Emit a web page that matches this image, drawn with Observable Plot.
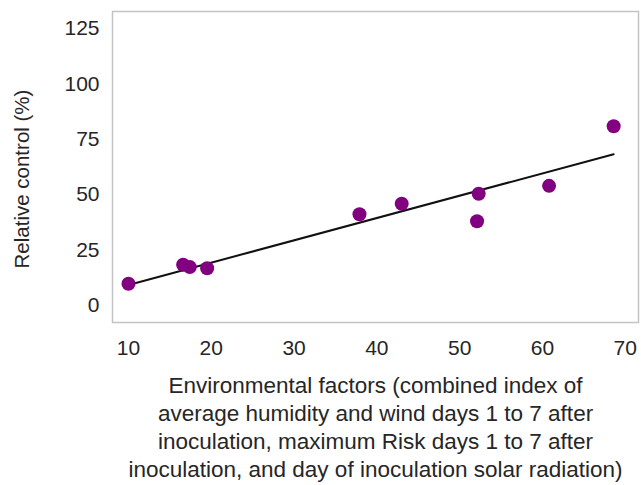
<!DOCTYPE html>
<html>
<head>
<meta charset="utf-8">
<script src="https://cdn.jsdelivr.net/npm/d3@7"></script>
<script src="https://cdn.jsdelivr.net/npm/@observablehq/plot@0.6"></script>
<style>
  html, body { margin: 0; padding: 0; background: #fff; }
  #chart { width: 641px; height: 485px; }
</style>
</head>
<body>
<div id="chart"></div>
<script>
const envIndex = [10.0, 16.6, 17.4, 19.5, 37.9, 43.0, 52.3, 52.1, 60.8, 68.6];
const relControl = [9.8, 18.4, 17.3, 16.8, 41.2, 45.9, 50.4, 38.0, 54.0, 80.9];
const xTicks = [10, 20, 30, 40, 50, 60, 70];
const yTicks = [0, 25, 50, 75, 100, 125];
const yLabel = "Relative control (%)";
const xTitle = "Environmental factors (combined index of\naverage humidity and wind days 1 to 7 after\ninoculation, maximum Risk days 1 to 7 after\ninoculation, and day of inoculation solar radiation)";

const data = envIndex.map((x, i) => ({x, y: relControl[i]}));

const chart = Plot.plot({
  width: 641,
  height: 485,
  marginTop: 11,
  marginLeft: 112,
  marginRight: 3,
  marginBottom: 163,
  style: {fontFamily: "'Liberation Sans', Arial, sans-serif", color: "#262626", background: "#fff"},
  x: {domain: [8.07, 71.6]},
  y: {domain: [-7.7, 132.7]},
  marks: [
    Plot.frame({stroke: "#c4c4c4", strokeWidth: 1.5}),
    Plot.axisX({ticks: xTicks, tickSize: 0, tickPadding: 18, fontSize: 21, label: null}),
    Plot.axisY({ticks: yTicks, tickSize: 0, tickPadding: 13, fontSize: 21, label: null}),
    Plot.text([yLabel], {frameAnchor: "left", textAnchor: "middle", rotate: -90, dx: -90, dy: 12, fontSize: 20.5, fill: "#262626"}),
    Plot.text([xTitle], {frameAnchor: "bottom", lineAnchor: "top", dy: 51, fontSize: 22.5, lineHeight: 1.24, fill: "#262626"}),
    Plot.linearRegressionY(data, {x: "x", y: "y", stroke: "#111", strokeWidth: 2, ci: 0}),
    Plot.dot(data, {x: "x", y: "y", r: 7, fill: "#800080"})
  ]
});
document.getElementById("chart").appendChild(chart);
</script>
</body>
</html>
